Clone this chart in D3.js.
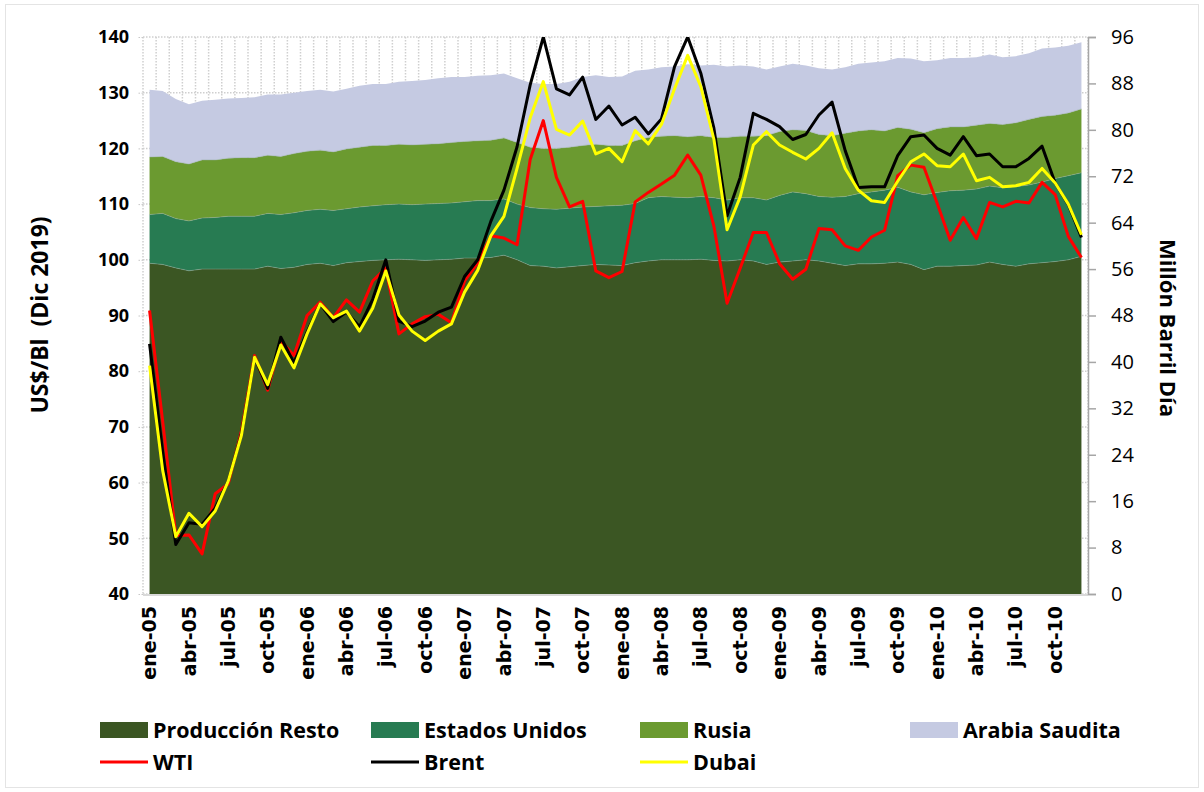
<!DOCTYPE html>
<html>
<head>
<meta charset="utf-8">
<script src="https://cdn.jsdelivr.net/npm/d3@7"></script>
<style>
  body { margin: 0; background: #fff; }
  svg { display: block; font-family: "Open Sans", sans-serif; }
</style>
</head>
<body>
<svg id="chart" width="1204" height="792"></svg>
<script>
const categories = [
  "ene-05","feb-05","mar-05","abr-05","may-05","jun-05","jul-05","ago-05","sep-05","oct-05","nov-05","dic-05",
  "ene-06","feb-06","mar-06","abr-06","may-06","jun-06","jul-06","ago-06","sep-06","oct-06","nov-06","dic-06",
  "ene-07","feb-07","mar-07","abr-07","may-07","jun-07","jul-07","ago-07","sep-07","oct-07","nov-07","dic-07",
  "ene-08","feb-08","mar-08","abr-08","may-08","jun-08","jul-08","ago-08","sep-08","oct-08","nov-08","dic-08",
  "ene-09","feb-09","mar-09","abr-09","may-09","jun-09","jul-09","ago-09","sep-09","oct-09","nov-09","dic-09",
  "ene-10","feb-10","mar-10","abr-10","may-10","jun-10","jul-10","ago-10","sep-10","oct-10","nov-10","dic-10"
];

// production, million barrels per day (right axis, stacked)
const produccionResto = [
  57.0,56.8,56.2,55.7,56.0,56.0,56.0,56.0,56.0,56.5,56.1,56.3,
  56.8,57.0,56.6,57.1,57.3,57.5,57.6,57.7,57.6,57.5,57.6,57.7,
  57.9,57.9,58.0,58.4,57.6,56.6,56.5,56.2,56.4,56.6,56.8,56.7,
  56.6,57.1,57.4,57.6,57.6,57.6,57.7,57.5,57.4,57.6,57.4,56.8,
  57.2,57.4,57.6,57.4,57.0,56.6,56.9,56.9,57.0,57.2,56.8,55.9,
  56.5,56.5,56.6,56.7,57.2,56.8,56.5,56.9,57.1,57.3,57.6,58.2
];
const estadosUnidos = [
  8.4,8.8,8.5,8.6,8.8,8.9,9.1,9.1,9.1,9.1,9.3,9.4,
  9.3,9.3,9.5,9.3,9.4,9.4,9.5,9.5,9.5,9.7,9.7,9.7,
  9.7,9.9,9.8,9.7,9.6,10.0,9.9,10.1,10.1,10.1,10.0,10.2,
  10.4,10.2,10.9,10.9,10.8,10.7,10.8,10.8,10.5,10.7,10.9,11.1,
  11.5,11.9,11.4,11.1,11.4,11.9,12.1,12.4,12.6,12.9,12.5,12.9,
  12.7,13.0,13.0,13.1,13.1,13.2,13.7,13.6,13.9,14.3,14.5,14.4
];
const rusia = [
  9.9,9.8,9.8,9.8,10.0,9.9,10.0,10.1,10.1,10.0,10.0,10.2,
  10.2,10.2,10.1,10.3,10.3,10.4,10.2,10.3,10.3,10.3,10.3,10.4,
  10.4,10.3,10.4,10.5,10.6,10.4,10.4,10.5,10.5,10.6,10.7,10.4,
  10.3,10.8,10.4,10.4,10.6,10.5,10.5,10.4,10.8,10.6,10.6,11.1,
  11.0,10.7,10.9,10.7,10.6,10.9,10.8,10.7,10.2,10.3,10.8,10.7,
  11.0,11.0,10.9,11.0,10.8,10.9,11.0,11.3,11.3,10.9,10.8,11.0
];
const arabiaSaudita = [
  11.6,11.3,10.8,10.3,10.2,10.4,10.3,10.3,10.4,10.5,10.7,10.5,
  10.4,10.4,10.4,10.4,10.6,10.6,10.6,10.8,11.0,11.1,11.3,11.3,
  11.1,11.2,11.2,11.1,11.1,11.1,11.1,11.1,11.3,11.8,11.9,11.8,
  11.9,12.1,11.7,11.9,11.9,12.5,12.1,12.5,12.2,12.2,12.0,11.4,
  11.2,11.4,11.2,11.4,11.4,11.4,11.6,11.6,12.0,12.0,12.2,12.3,
  11.8,11.9,11.9,11.7,11.9,11.6,11.5,11.4,11.7,11.7,11.6,11.5
];

// prices, US$/Bl (Dic 2019) (left axis)
const wti = [
  90.9,71.0,50.5,50.6,47.2,58.0,59.8,69.3,82.8,76.6,85.4,82.8,
  90.0,92.4,89.6,92.8,90.6,96.2,98.5,86.7,88.5,89.8,90.2,88.7,
  96.2,99.4,104.3,103.9,102.7,118.0,125.0,114.8,109.5,110.5,98.0,96.8,
  97.9,110.4,112.1,113.6,115.2,118.8,115.2,106.0,92.2,98.5,104.9,104.9,
  99.3,96.5,98.3,105.6,105.4,102.5,101.7,104.1,105.3,115.1,117.0,116.6,
  110.2,103.5,107.6,103.8,110.3,109.5,110.5,110.2,113.9,111.7,104.2,100.4
];
const brent = [
  84.9,65.5,48.9,52.8,52.5,55.4,60.3,68.8,82.5,76.9,86.1,81.5,
  87.0,92.1,88.9,90.6,88.0,92.9,100.0,89.0,88.0,89.0,90.6,91.5,
  97.0,100.0,106.9,112.5,120.3,131.4,140.0,130.7,129.6,132.8,125.2,127.6,
  124.2,125.6,122.6,125.3,134.7,140.0,133.5,123.6,107.9,114.8,126.3,125.2,
  123.9,121.6,122.5,126.0,128.3,119.6,113.0,113.1,113.1,118.7,122.1,122.4,
  120.0,118.8,122.1,118.7,119.0,116.7,116.7,118.2,120.4,113.8,109.9,104.0
];
const dubai = [
  81.0,62.2,50.3,54.5,52.1,54.9,60.3,68.5,82.5,77.6,84.7,80.6,
  86.7,92.1,89.6,90.8,87.2,91.3,98.0,90.1,87.2,85.5,87.2,88.5,
  94.2,98.1,104.3,107.8,116.4,125.5,132.0,123.4,122.4,124.9,119.0,120.0,
  117.6,123.2,120.8,124.3,130.7,136.7,131.1,121.6,105.4,111.3,120.6,123.0,
  120.6,119.3,118.1,120.0,122.8,116.4,112.5,110.6,110.3,114.1,117.6,119.0,
  116.9,116.7,119.0,114.2,114.8,113.1,113.3,113.9,116.4,113.8,110.0,104.5
];

const leftTicks = [40, 50, 60, 70, 80, 90, 100, 110, 120, 130, 140];
const rightTicks = [0, 8, 16, 24, 32, 40, 48, 56, 64, 72, 80, 88, 96];
const xTickLabels = categories.filter((d, i) => i % 3 === 0);

const areaKeys = ["Producción Resto", "Estados Unidos", "Rusia", "Arabia Saudita"];
const areaColors = ["#3b5623", "#277b52", "#6b9a30", "#c5cae2"];
const lineNames = ["WTI", "Brent", "Dubai"];
const lineColors = ["#ff0000", "#000000", "#ffff00"];

const plot = { left: 143, right: 1088, top: 37, bottom: 594 };

const svg = d3.select("#chart");

const x = d3.scaleBand()
  .domain(categories)
  .range([plot.left, plot.right]);
const cx = d => x(d) + x.bandwidth() / 2;

const yL = d3.scaleLinear().domain([40, 140]).range([plot.bottom, plot.top]);
const yR = d3.scaleLinear().domain([0, 96]).range([plot.bottom, plot.top]);

// outer chart border
svg.append("rect")
  .attr("x", 5.5).attr("y", 4.5)
  .attr("width", 1193).attr("height", 783)
  .attr("fill", "none")
  .attr("stroke", "#e4e4e4");

svg.append("defs").append("clipPath").attr("id", "plotclip")
  .append("rect")
  .attr("x", plot.left).attr("y", plot.top)
  .attr("width", plot.right - plot.left).attr("height", plot.bottom - plot.top);

// dotted grid
const grid = svg.append("g")
  .attr("stroke", "#cfcfcf")
  .attr("stroke-width", 1.5)
  .attr("stroke-dasharray", "1.5,1.5");
grid.append("g").selectAll("line")
  .data(categories)
  .join("line")
  .attr("x1", d => x(d) + x.bandwidth())
  .attr("x2", d => x(d) + x.bandwidth())
  .attr("y1", plot.top)
  .attr("y2", plot.bottom);
grid.append("g").selectAll("line")
  .data(leftTicks)
  .join("line")
  .attr("x1", plot.left)
  .attr("x2", plot.right)
  .attr("y1", d => yL(d))
  .attr("y2", d => yL(d));
grid.append("line")
  .attr("x1", plot.left).attr("x2", plot.left)
  .attr("y1", plot.top).attr("y2", plot.bottom);

// stacked production areas
const table = categories.map((c, i) => ({
  cat: c,
  "Producción Resto": produccionResto[i],
  "Estados Unidos": estadosUnidos[i],
  "Rusia": rusia[i],
  "Arabia Saudita": arabiaSaudita[i]
}));
const series = d3.stack().keys(areaKeys)(table);

const area = d3.area()
  .x(d => cx(d.data.cat))
  .y0(d => yR(d[0]))
  .y1(d => yR(d[1]));

svg.append("g")
  .selectAll("path")
  .data(series)
  .join("path")
  .attr("fill", (d, i) => areaColors[i])
  .attr("d", area);

svg.append("g")
  .attr("fill", "none")
  .attr("stroke", "#8fa99a")
  .attr("stroke-width", 0.8)
  .attr("stroke-opacity", 0.6)
  .selectAll("path")
  .data(series.slice(0, 3))
  .join("path")
  .attr("d", d3.line().x(d => cx(d.data.cat)).y(d => yR(d[1])));

// bottom border
svg.append("line")
  .attr("x1", plot.left).attr("x2", plot.right)
  .attr("y1", plot.bottom + 1).attr("y2", plot.bottom + 1)
  .attr("stroke", "#d9d9d9")
  .attr("stroke-width", 2);

// price lines
const priceSeries = [wti, brent, dubai];
const line = d3.line()
  .x((d, i) => cx(categories[i]))
  .y(d => yL(d));

svg.append("g")
  .attr("clip-path", "url(#plotclip)")
  .attr("fill", "none")
  .attr("stroke-width", 3)
  .attr("stroke-linejoin", "round")
  .selectAll("path")
  .data(priceSeries)
  .join("path")
  .attr("stroke", (d, i) => lineColors[i])
  .attr("d", line);

// left axis
svg.append("g")
  .attr("transform", `translate(${plot.left},0)`)
  .call(d3.axisLeft(yL).tickValues(leftTicks).tickSize(5).tickPadding(9))
  .call(g => g.select(".domain").remove())
  .call(g => g.selectAll(".tick line")
    .attr("stroke", "#c8c8c8")
    .attr("stroke-dasharray", "1.5,1.5"))
  .call(g => g.selectAll(".tick text")
    .attr("font-family", "'Open Sans', sans-serif")
    .attr("font-weight", "bold")
    .attr("font-size", 18)
    .attr("fill", "#000"));

// right axis
svg.append("g")
  .attr("transform", `translate(${plot.right},0)`)
  .call(d3.axisRight(yR).tickValues(rightTicks).tickSize(8).tickPadding(15))
  .call(g => g.select(".domain").attr("stroke", "#a6a6a6").attr("stroke-width", 1.5))
  .call(g => g.selectAll(".tick line").attr("stroke", "#a6a6a6").attr("stroke-width", 1.5))
  .call(g => g.selectAll(".tick text")
    .attr("font-family", "'Open Sans', sans-serif")
    .attr("font-size", 20)
    .attr("fill", "#000"));

// x tick labels
svg.append("g")
  .attr("font-family", "'DejaVu Sans', sans-serif")
  .attr("font-weight", "bold")
  .attr("font-size", 19)
  .selectAll("text")
  .data(xTickLabels)
  .join("text")
  .attr("transform", d => `translate(${cx(d)},606) rotate(-90)`)
  .attr("text-anchor", "end")
  .attr("dy", "0.35em")
  .text(d => d);

// axis titles
svg.append("text")
  .attr("transform", "translate(40,315) rotate(-90)")
  .attr("text-anchor", "middle")
  .attr("dy", "0.35em")
  .attr("font-weight", "bold")
  .attr("font-size", 23)
  .attr("xml:space", "preserve")
  .text("US$/Bl  (Dic 2019)");

svg.append("text")
  .attr("transform", "translate(1168,328) rotate(90)")
  .attr("text-anchor", "middle")
  .attr("dy", "0.35em")
  .attr("font-weight", "bold")
  .attr("font-size", 22)
  .text("Millón Barril Día");

// legend
const legendX = [100, 371, 640, 910];
const legend = svg.append("g")
  .attr("font-weight", "bold")
  .attr("font-size", 21.5);

const areaItems = legend.selectAll("g.area-item")
  .data(areaKeys)
  .join("g")
  .attr("class", "area-item")
  .attr("transform", (d, i) => `translate(${legendX[i]},730)`);
areaItems.append("rect")
  .attr("x", 0).attr("y", -8)
  .attr("width", 48).attr("height", 16)
  .attr("fill", (d, i) => areaColors[i]);
areaItems.append("text")
  .attr("x", 53)
  .attr("dy", "0.35em")
  .text(d => d);

const lineItems = legend.selectAll("g.line-item")
  .data(lineNames)
  .join("g")
  .attr("class", "line-item")
  .attr("transform", (d, i) => `translate(${legendX[i]},762)`);
lineItems.append("line")
  .attr("x1", 0).attr("x2", 48)
  .attr("stroke", (d, i) => lineColors[i])
  .attr("stroke-width", 3);
lineItems.append("text")
  .attr("x", 53)
  .attr("dy", "0.35em")
  .text(d => d);
</script>
</body>
</html>
